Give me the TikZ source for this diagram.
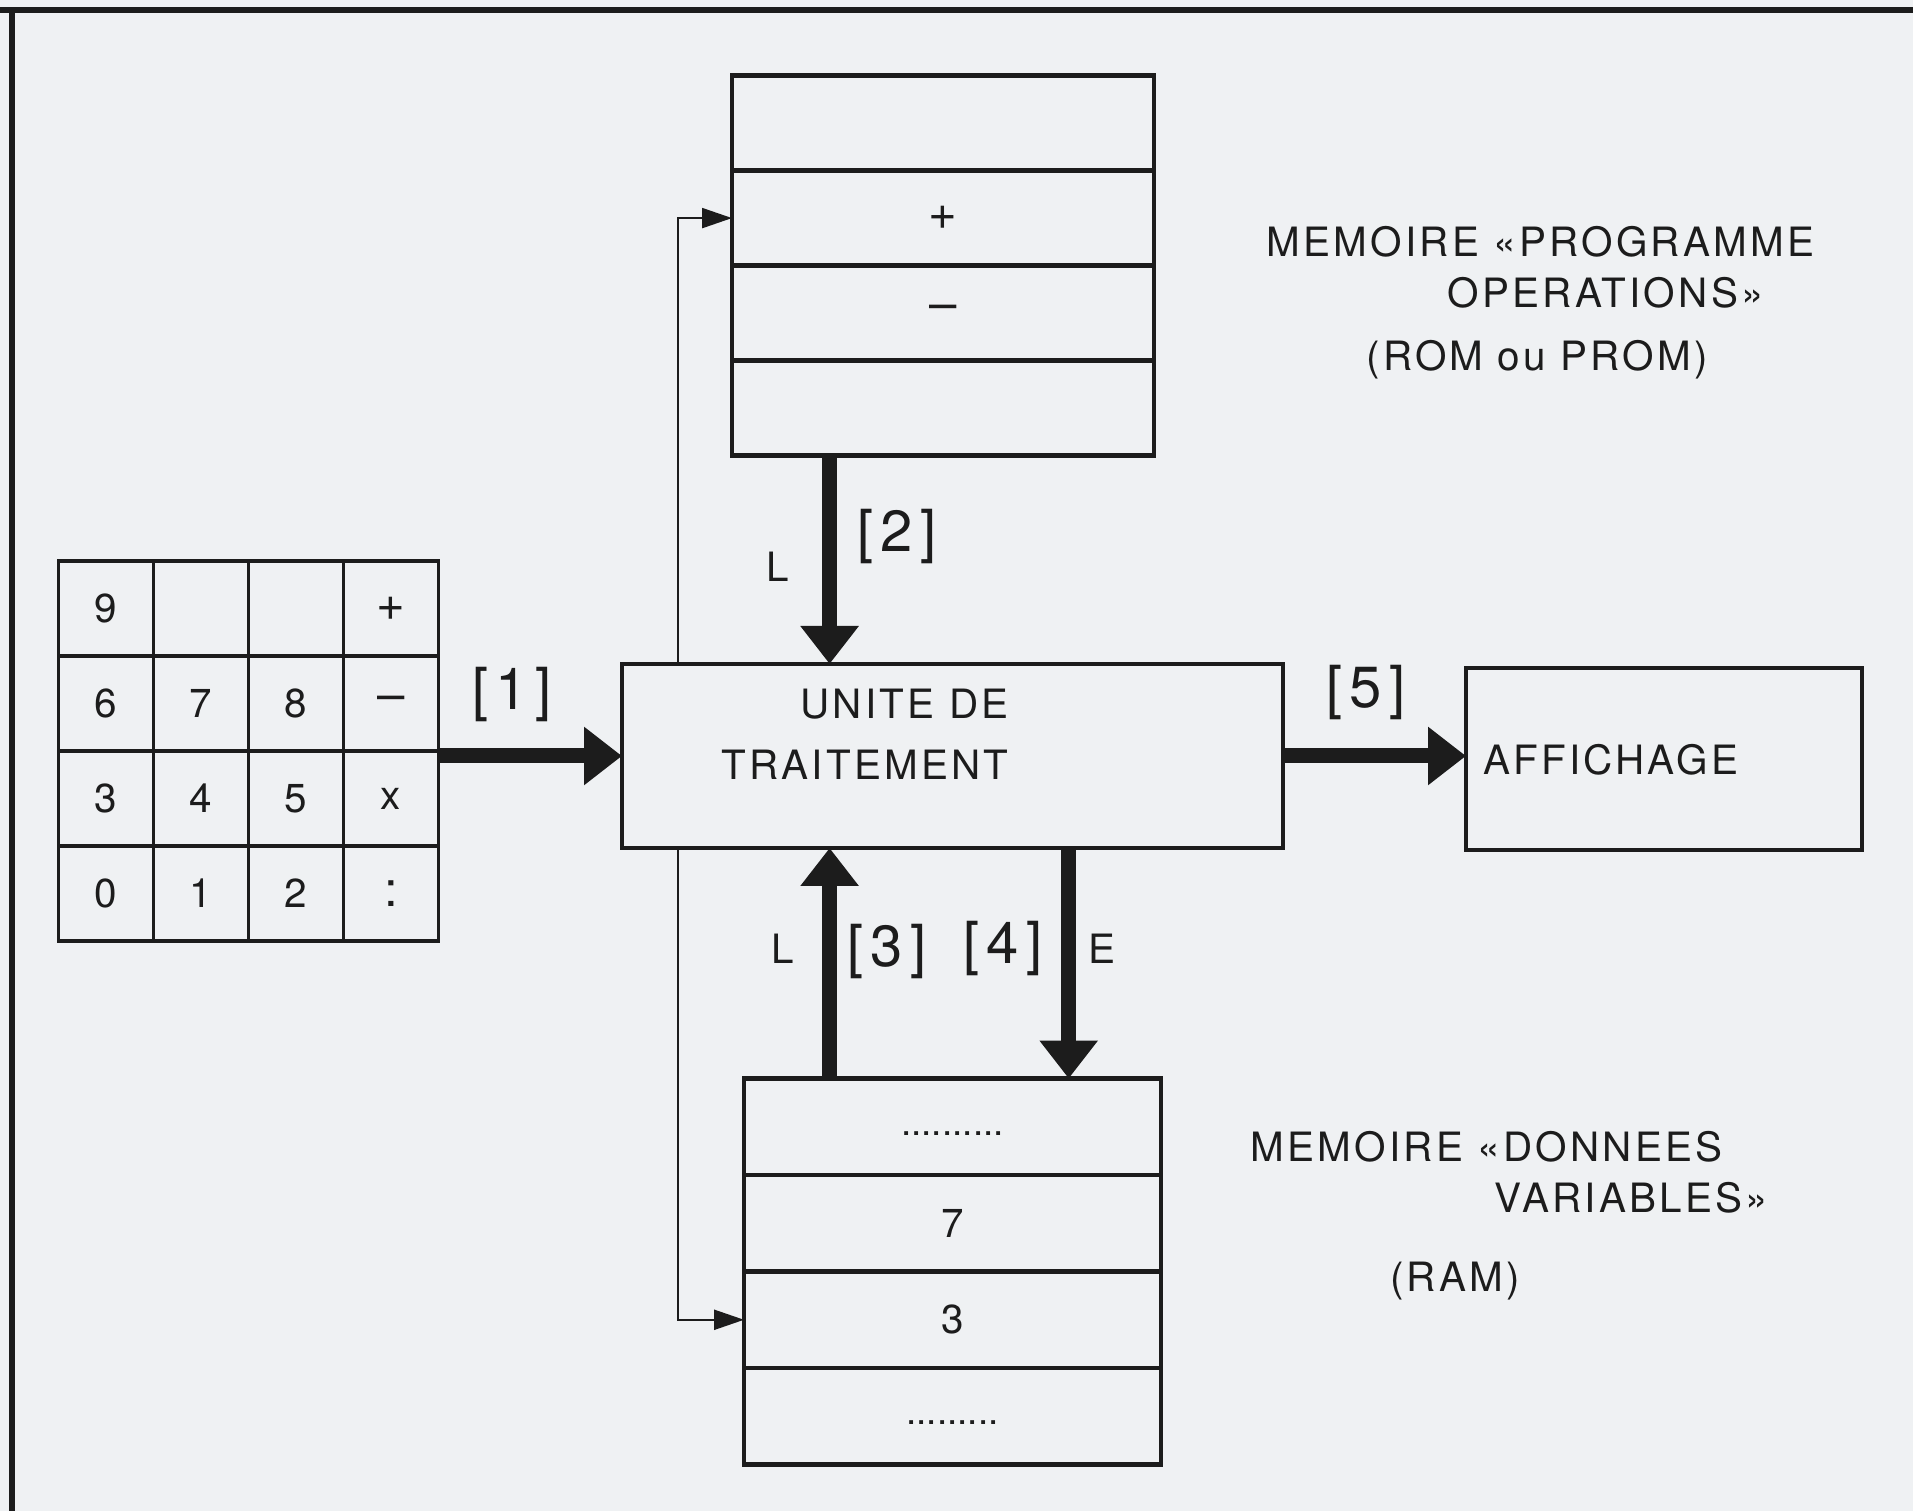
\documentclass[tikz,border=0pt]{standalone}
\usepackage{fontspec}
\setmainfont{TeX Gyre Heros}[LetterSpace=8]
\newfontfamily\plainfont{TeX Gyre Heros}
\newfontfamily\markfont{TeX Gyre Heros}[LetterSpace=12]
\usepackage{xcolor}
\usepackage{tikz}
\usetikzlibrary{arrows.meta, positioning, backgrounds}
\definecolor{paper}{RGB}{239, 241, 243}
\definecolor{ink}{RGB}{28, 28, 28}
\newcommand{\opsym}[1]{{\fontsize{14}{14}\selectfont #1}}
\tikzset{
  cell/.style={
    rectangle, draw=ink, fill=paper, line width=1.2pt,
    outer sep=0pt, inner sep=0pt, text=ink,
    font=\fontsize{11.5}{14.5}\selectfont
  },
  keycell/.style ={cell, line width=1pt, minimum width=0.95cm, minimum height=0.95cm},
  romcell/.style ={cell, minimum width=4.22cm, minimum height=0.95cm},
  ramcell/.style ={cell, minimum width=4.17cm, minimum height=0.965cm},
  dotrow/.style  ={font=\plainfont\fontsize{10.5}{12}\selectfont},
  unitbox/.style ={cell, minimum width=6.61cm, minimum height=1.84cm},
  showbox/.style ={cell, minimum width=3.96cm, minimum height=1.82cm,
                   inner xsep=0.17cm, text width=3.62cm, align=left},
  memtext/.style ={text=ink, align=left, inner sep=0pt, font=\fontsize{11.5}{14.5}\selectfont},
  tag/.style     ={text=ink, font=\markfont\fontsize{16.5}{16.5}\selectfont},
  rwtext/.style  ={text=ink, font=\fontsize{11.5}{14}\selectfont},
  bigarrow/.style={-{Triangle[length=3.8mm, width=5.6mm]}, line width=0.15cm, draw=ink},
  busarrow/.style={{Triangle[length=3mm, width=2mm]}-{Triangle[length=3mm, width=2mm]},
                   line width=0.65pt, draw=ink},
  frameline/.style={line width=1.5pt, draw=ink},
}

\begin{document}
\begin{tikzpicture}

  \useasboundingbox (0,0) rectangle (19.13,-15.11);

  % Frame
  \draw[frameline] (0,-0.10) -- (19.13,-0.10);
  \draw[frameline] (0.12,-0.10) -- (0.12,-15.11);

  % Keypad
  \foreach \keys [count=\r] in {{9,{},{},\opsym{+}},{6,7,8,\opsym{--}},{3,4,5,x},{0,1,2,\opsym{:}}}{
    \foreach \k [count=\c] in \keys{
      \node[keycell] (k-\r-\c) at ({0.11+0.95*\c}, {-5.135-0.95*\r}) {\k};
    }
  }

  % Memoire programme
  \node[romcell]                    (rom1) at (9.43,-1.231) {};
  \node[romcell, below=0pt of rom1] (rom2) {\opsym{+}};
  \node[romcell, below=0pt of rom2] (rom3) {\opsym{--}};
  \node[romcell, below=0pt of rom3] (rom4) {};

  % Memoire donnees
  \node[ramcell, dotrow]            (ram1) at (9.525,-11.268) {\strut..........};
  \node[ramcell, below=0pt of ram1] (ram2) {7};
  \node[ramcell, below=0pt of ram2] (ram3) {3};
  \node[ramcell, dotrow, below=0pt of ram3] (ram4) {\strut.........};

  % Unite de traitement, affichage
  \node[unitbox, label={[anchor=east, align=right, xshift=-2.62cm, yshift=0.22cm,
        text=ink, font=\fontsize{11.5}{17.4}\selectfont]east:{UNITE DE\\TRAITEMENT}}]
        (ut) at (9.525,-7.56) {};
  \node[showbox] (aff) at (16.64,-7.593) {AFFICHAGE};

  % Captions
  \node[memtext, anchor=west] (romcap) at (12.66,-2.675)
        {MEMOIRE «PROGRAMME\\\hspace*{1.81cm}OPERATIONS»};
  \node[memtext] (romtype) at (15.37,-3.60) {(ROM ou PROM)};
  \node[memtext, anchor=west] (ramcap) at (12.50,-11.725)
        {MEMOIRE «DONNEES\\\hspace*{2.44cm}VARIABLES»};
  \node[memtext] (ramtype) at (14.55,-12.81) {(RAM)};

  % Arrows
  \coordinate (lx)  at (8.296,0);
  \coordinate (ex)  at (10.687,0);
  \coordinate (bus) at (6.78,0);

  \draw[bigarrow] (ut.west -| k-2-4.east) -- (ut.west);
  \draw[bigarrow] (rom4.south -| lx) -- (ut.north -| lx);
  \draw[bigarrow] (ram1.north -| lx) -- (ut.south -| lx);
  \draw[bigarrow] (ut.south -| ex) -- (ram1.north -| ex);
  \draw[bigarrow] (ut.east) -- (ut.east -| aff.west);

  \begin{scope}[on background layer]
    \fill[paper] (0,0) rectangle (19.13,-15.11);
    \draw[busarrow] (rom2.west) -- (rom2.west -| bus) |- (ram3.west);
  \end{scope}

  % Labels
  \node[tag]    (t1) at (5.12,-6.95)  {[1]};
  \node[rwtext] (l2) at (7.78,-5.67)  {L};
  \node[tag]    (t2) at (8.97,-5.37)  {[2]};
  \node[rwtext] (l3) at (7.83,-9.49)  {L};
  \node[tag]    (t3) at (8.87,-9.52)  {[3]};
  \node[tag]    (t4) at (10.03,-9.49) {[4]};
  \node[rwtext] (e4) at (11.02,-9.49) {E};
  \node[tag]    (t5) at (13.66,-6.93) {[5]};

\end{tikzpicture}
\end{document}
